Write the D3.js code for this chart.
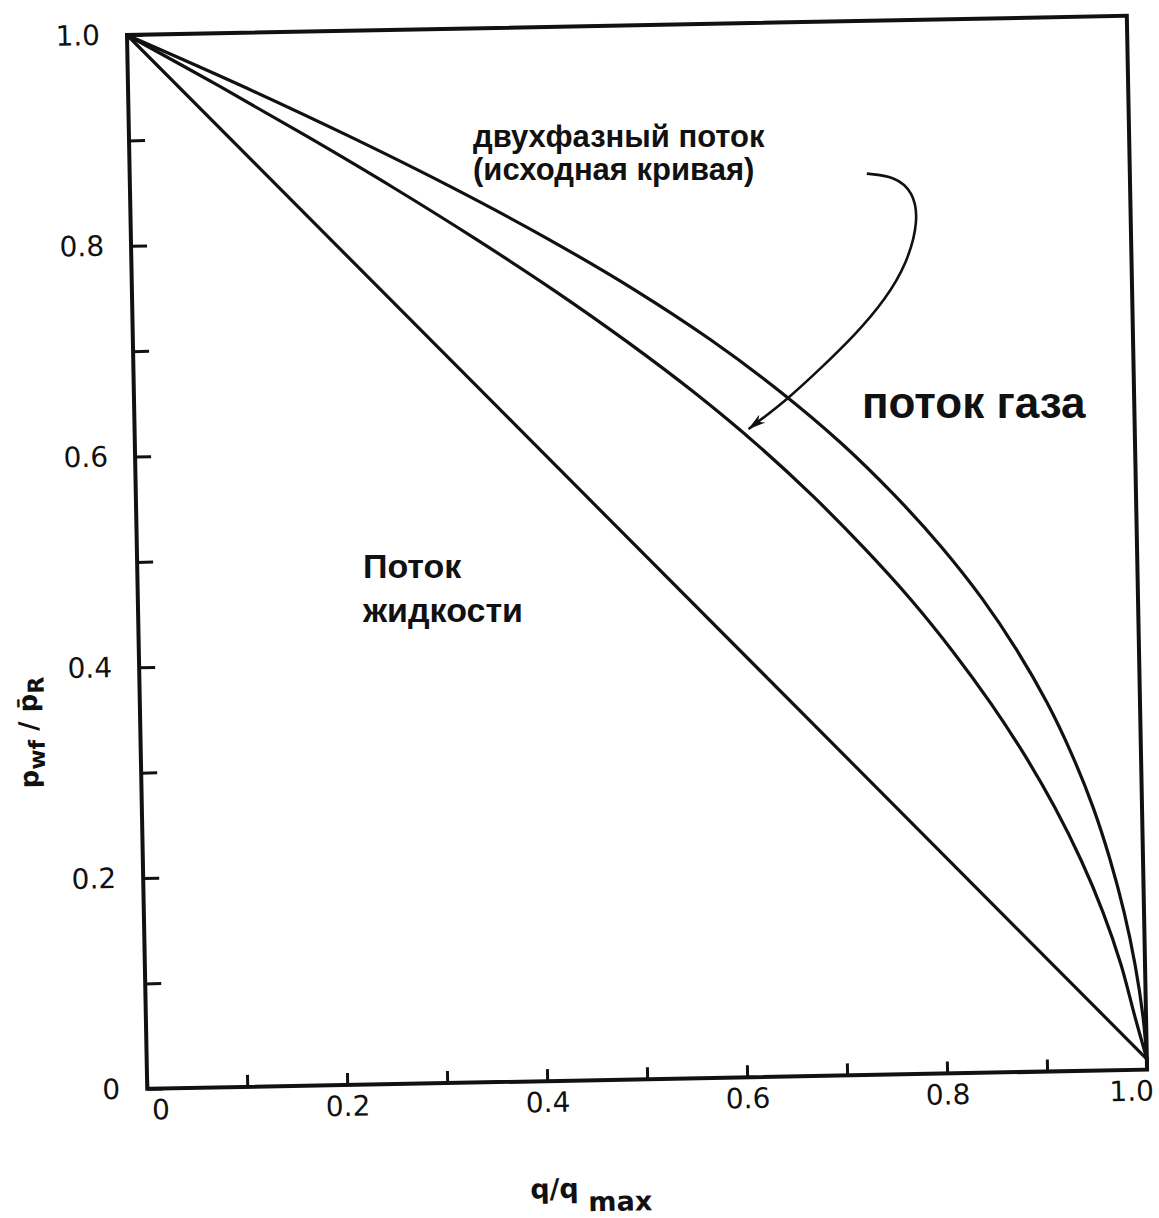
<!DOCTYPE html>
<html>
<head>
<meta charset="utf-8">
<script src="https://cdn.jsdelivr.net/npm/d3@7"></script>
<style>
  body { margin: 0; background: #fff; }
  svg { display: block; }
  .note { font-family: "Liberation Sans", Arial, sans-serif; font-weight: bold; fill: #111; }
</style>
</head>
<body>
<div id="chart"></div>
<script>
// values (q/qmax vs pwf/pR)
const liquidQ = [0, 1.0];
const liquidP = [1.0, 0.01];

const vogelQ = [0, 0.091, 0.179, 0.264, 0.345, 0.422, 0.494, 0.561, 0.622, 0.677, 0.727, 0.773, 0.814, 0.851, 0.884, 0.913, 0.938, 0.959, 0.976, 0.989, 1.0];
const vogelP = [1.0, 0.95, 0.9, 0.85, 0.8, 0.75, 0.7, 0.65, 0.6, 0.55, 0.5, 0.45, 0.4, 0.35, 0.3, 0.25, 0.2, 0.15, 0.1, 0.05, 0.01];

const gasQ = [0, 0.113, 0.22, 0.321, 0.415, 0.501, 0.578, 0.646, 0.706, 0.758, 0.804, 0.844, 0.878, 0.907, 0.931, 0.951, 0.967, 0.98, 0.99, 0.997, 1.0];
const gasP = [1.0, 0.95, 0.9, 0.85, 0.8, 0.75, 0.7, 0.65, 0.6, 0.55, 0.5, 0.45, 0.4, 0.35, 0.3, 0.25, 0.2, 0.15, 0.1, 0.05, 0.01];

const xTickValues = [0, 0.1, 0.2, 0.3, 0.4, 0.5, 0.6, 0.7, 0.8, 0.9, 1.0];
const xTickLabels = ["0", "", "0.2", "", "0.4", "", "0.6", "", "0.8", "", "1.0"];
const yTickValues = [0, 0.1, 0.2, 0.3, 0.4, 0.5, 0.6, 0.7, 0.8, 0.9, 1.0];
const yTickLabels = ["0", "", "0.2", "", "0.4", "", "0.6", "", "0.8", "", "1.0"];

// the curved pointer from the label to the two-phase curve
const arrowQ = [0.737, 0.765, 0.783, 0.788, 0.776, 0.753, 0.722, 0.687, 0.653, 0.614];
const arrowP = [0.855, 0.852, 0.837, 0.81, 0.77, 0.735, 0.702, 0.671, 0.642, 0.615];

const W = 1159, H = 1218;
const width = 1000, height = 1054;
const tilt = -1.1; // the scan is slightly rotated

const svg = d3.select("#chart").append("svg")
    .attr("width", W)
    .attr("height", H)
    .style("background", "#fff");

svg.append("defs").append("marker")
    .attr("id", "head")
    .attr("markerUnits", "userSpaceOnUse")
    .attr("viewBox", "0 -6 18 12")
    .attr("refX", 17)
    .attr("refY", 0)
    .attr("markerWidth", 18)
    .attr("markerHeight", 12)
    .attr("orient", "auto")
    .append("path")
    .attr("d", "M0,-5 L18,0 L0,5 L5,0 Z")
    .attr("fill", "#111");

const g = svg.append("g")
    .attr("transform", `translate(127,35) rotate(${tilt})`);

const x = d3.scaleLinear().domain([0, 1]).range([0, width]);
const y = d3.scaleLinear().domain([0, 1]).range([height, 0]);

// frame
g.append("rect")
    .attr("x", 0).attr("y", 0)
    .attr("width", width).attr("height", height)
    .attr("fill", "none")
    .attr("stroke", "#111")
    .attr("stroke-width", 4);

// x axis, ticks pointing into the plot
const xAxis = g.append("g")
    .attr("transform", `translate(0,${height})`)
    .call(d3.axisBottom(x).tickValues(xTickValues).tickSize(-12).tickPadding(11)
        .tickFormat((d, i) => xTickLabels[i]));
xAxis.select(".domain").remove();
xAxis.selectAll(".tick line").attr("stroke", "#111").attr("stroke-width", 3);
xAxis.selectAll(".tick text")
    .attr("font-family", "DejaVu Sans, sans-serif")
    .attr("font-size", 28)
    .attr("fill", "#111");
xAxis.selectAll(".tick text").filter((d, i) => i === 0).attr("text-anchor", "start").attr("x", 4);
xAxis.selectAll(".tick text").filter((d, i) => i === xTickValues.length - 1).attr("text-anchor", "end").attr("x", 6);

// y axis
const yAxis = g.append("g")
    .call(d3.axisLeft(y).tickValues(yTickValues).tickSize(-16).tickPadding(27)
        .tickFormat((d, i) => yTickLabels[i]));
yAxis.select(".domain").remove();
yAxis.selectAll(".tick line").attr("stroke", "#111").attr("stroke-width", 3);
yAxis.selectAll(".tick text")
    .attr("font-family", "DejaVu Sans, sans-serif")
    .attr("font-size", 28)
    .attr("fill", "#111");

// curves
const line = d3.line()
    .x(d => x(d[0]))
    .y(d => y(d[1]))
    .curve(d3.curveCatmullRom.alpha(0.5));

const series = [
    d3.zip(liquidQ, liquidP),
    d3.zip(vogelQ, vogelP),
    d3.zip(gasQ, gasP)
];

g.selectAll(".curve")
    .data(series)
    .enter()
    .append("path")
    .attr("class", "curve")
    .attr("d", line)
    .attr("fill", "none")
    .attr("stroke", "#111")
    .attr("stroke-width", 3.2)
    .attr("stroke-linejoin", "round");

// pointer arrow
g.append("path")
    .attr("d", d3.line().x(d => x(d[0])).y(d => y(d[1])).curve(d3.curveBasis)(d3.zip(arrowQ, arrowP)))
    .attr("fill", "none")
    .attr("stroke", "#111")
    .attr("stroke-width", 2.6)
    .attr("marker-end", "url(#head)");

// axis titles
const yTitle = g.append("text")
    .attr("transform", `translate(-103,${y(0.34)}) rotate(-90)`)
    .attr("text-anchor", "middle")
    .attr("font-family", "DejaVu Sans, sans-serif")
    .attr("font-size", 26)
    .attr("font-weight", "bold")
    .attr("fill", "#111");
yTitle.append("tspan").text("p");
yTitle.append("tspan").attr("baseline-shift", "-30%").attr("font-size", 22).text("wf");
yTitle.append("tspan").text(" / p\u0304");
yTitle.append("tspan").attr("baseline-shift", "-30%").attr("font-size", 22).text("R");

const xTitle = g.append("text")
    .attr("x", x(0.381))
    .attr("y", height + 117)
    .attr("font-family", "DejaVu Sans, sans-serif")
    .attr("font-size", 27)
    .attr("font-weight", "bold")
    .attr("fill", "#111");
xTitle.append("tspan").text("q/q ");
xTitle.append("tspan").attr("dy", 14).text("max");

// annotations added over the scan (not tilted)
const notes = svg.append("g").attr("class", "note");
notes.append("text").attr("x", 473).attr("y", 147).attr("font-size", 31).text("двухфазный поток");
notes.append("text").attr("x", 473).attr("y", 180).attr("font-size", 31).text("(исходная кривая)");
notes.append("text").attr("x", 862).attr("y", 418).attr("font-size", 44).text("поток газа");
notes.append("text").attr("x", 363).attr("y", 578).attr("font-size", 34).text("Поток");
notes.append("text").attr("x", 363).attr("y", 622).attr("font-size", 34).text("жидкости");
</script>
</body>
</html>
